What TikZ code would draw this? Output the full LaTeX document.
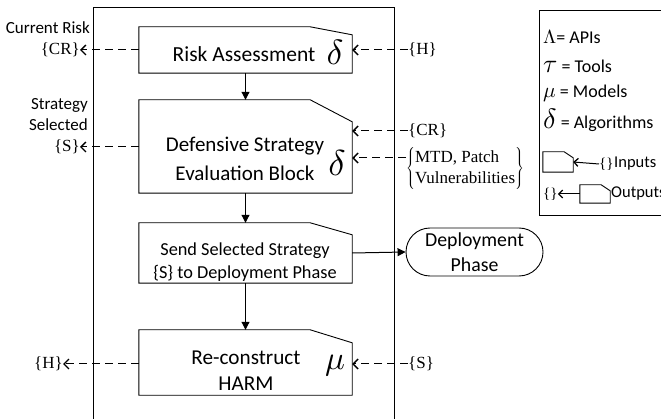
\documentclass[tikz,border=0pt]{standalone}
\usepackage{fontspec}
\setmainfont{Carlito}
\newfontfamily\serifrm{Liberation Serif}
\usetikzlibrary{arrows.meta,calc,shapes.misc}
\newcommand\mycutbox[3]{\draw[line width=0.9pt] (#1.south west) -- (#1.north west) -- ($(#1.north east)+(-#3,0)$) -- ($(#1.north east)+(0,#2)$) -- (#1.south east) -- cycle;}
\newcommand\biggrk[2]{\scalebox{#1}{\normalsize$#2$}}
\begin{document}
\begin{tikzpicture}[x=1pt,y=-1pt,
  blk/.style={minimum width=213pt, inner sep=0pt, draw=none, font=\fontsize{21.5}{26}\selectfont, align=center},
  dsh/.style={dash pattern=on 8pt off 5pt, line width=1pt, -{Straight Barb[length=5pt,width=10pt,line width=1.3pt]}},
  flow/.style={line width=1pt,-{Triangle[length=8pt,width=8pt]}},
  lbl/.style={font=\serifrm\fontsize{17}{20}\selectfont, inner sep=0pt},
  slbl/.style={font=\fontsize{17}{21}\selectfont, inner sep=0pt, align=right},
  grk/.style={inner sep=0pt},
  leg/.style={font=\fontsize{18}{20}\selectfont, inner sep=0pt, anchor=west},
]
\clip (0,0) rectangle (661,419);
\fill[white] (0,0) rectangle (661,419);
% frame
\draw[line width=0.9pt] (93,430) -- (93,7) -- (394,7) -- (394,430);
% legend frame
\draw[line width=0.9pt] (670,10) -- (539,10) -- (539,215) -- (670,215);

% blocks
\node[blk, minimum height=46pt] (ra) at (245.5,50) {};
\node[blk, minimum height=93pt] (dse) at (245.5,146.5) {};
\node[blk, minimum height=60pt] (sss) at (245.5,253) {};
\node[blk, minimum height=65pt] (rch) at (245.5,362.5) {};
\mycutbox{ra}{8}{42}
\mycutbox{dse}{22}{42}
\mycutbox{sss}{12}{42}
\mycutbox{rch}{13}{42}

\node[blk] (ratxt) at (244,54) {Risk Assessment};
\node[grk] (rad) at (335,52) {\biggrk{3.5}{\delta}};
\node[blk, font=\fontsize{21}{29}\selectfont] (dsetxt) at (245,159) {Defensive Strategy\\Evaluation Block};
\node[grk] (dsed) at (337,163) {\biggrk{3.6}{\delta}};
\node[blk, font=\fontsize{18.3}{23}\selectfont] (ssstxt) at (245,262) {Send Selected Strategy\\\{S\} to Deployment Phase};
\node[blk, font=\fontsize{21.2}{26}\selectfont] (rchtxt) at (246,371) {Re-construct\\HARM};
\node[grk] (rchm) at (335,366) {\biggrk{3.3}{\mu}};

% deployment phase
\node[rounded rectangle, draw, line width=0.9pt, minimum width=137pt, minimum height=48pt, inner sep=0pt,
  font=\fontsize{19.8}{25}\selectfont, align=center] (dep) at (474.5,252) {Deployment\\Phase};

% flow arrows
\draw[flow] (ra.south) -- (dse.north);
\draw[flow] (dse.south) -- (sss.north);
\draw[flow] (sss.south) -- (rch.north);
\draw[flow] (sss.east) -- (dep.west);

% left outputs
\node[slbl, anchor=east] (crt) at (90,28) {Current Risk};
\node[lbl, anchor=east] (crl) at (80,50) {\{CR\}};
\node[slbl, anchor=east] (sst) at (88,115) {Strategy\\Selected};
\node[lbl, anchor=east] (sl) at (80,147) {\{S\}};
\node[lbl, anchor=east] (hl) at (63,364) {\{H\}};
\draw[dsh] (ra.west |- crl) -- (crl.east);
\draw[dsh] (dse.west |- sl) -- (sl.east);
\draw[dsh] (rch.west |- hl) -- (hl.east);

% right inputs
\node[lbl, anchor=west] (hr) at (408,50) {\{H\}};
\node[lbl, anchor=west] (crr) at (408,131) {\{CR\}};
\node[lbl, anchor=west, font=\serifrm\fontsize{17}{22}\selectfont] (mtd) at (406,169) {$\left\{\mbox{\begin{tabular}{@{}l@{}}MTD, Patch\\[-1pt]Vulnerabilities\end{tabular}}\right\}$};
\node[lbl, anchor=west] (sr) at (408,364) {\{S\}};
\draw[dsh] (hr.west) -- (ra.east |- hr);
\draw[dsh] (crr.west) -- (dse.east |- crr);
\draw[dsh] (mtd.west |- 0,158) -- (dse.east |- 0,158);
\draw[dsh] (sr.west) -- (rch.east |- sr);

% legend
\node[leg] (l1) at (543,37) {\biggrk{1.9}{\Lambda}= APIs};
\node[leg] (l2) at (543,66) {\biggrk{2.6}{\tau} = Tools};
\node[leg] (l3) at (543,93) {\biggrk{2.1}{\mu} = Models};
\node[leg] (l4) at (543,120) {\biggrk{2.8}{\delta} = Algorithms};
\node[draw=none, minimum width=30pt, minimum height=20pt, inner sep=0pt] (inb) at (558,162) {};
\mycutbox{inb}{6}{9}
\node[leg, font=\serifrm\fontsize{15}{17}\selectfont] (inbr) at (599,164) {\{\}};
\node[leg, font=\fontsize{16.5}{18}\selectfont] (intx) at (614,164) {Inputs};
\draw[line width=1pt, -{Straight Barb[length=4pt,width=8pt,line width=1.3pt]}] (inbr.west) -- (inb.east);
\node[draw=none, minimum width=30pt, minimum height=18pt, inner sep=0pt] (outb) at (595,194) {};
\mycutbox{outb}{6}{9}
\node[leg, font=\serifrm\fontsize{15}{17}\selectfont] (outbr) at (543,194) {\{\}};
\node[leg, font=\fontsize{16.5}{18}\selectfont] (outtx) at (611,193) {Outputs};
\draw[line width=1pt, -{Straight Barb[length=4pt,width=8pt,line width=1.3pt]}] (outb.west) -- (outbr.east);
\end{tikzpicture}
\end{document}
